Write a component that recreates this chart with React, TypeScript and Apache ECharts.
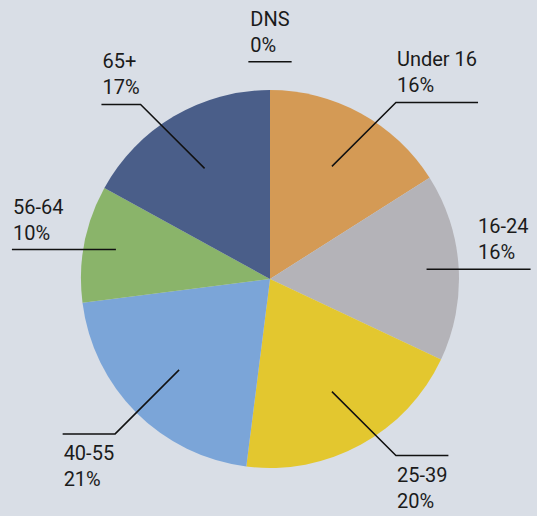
import React, { useEffect, useRef } from "react";
import * as echarts from "echarts";

const categories = ["Under 16", "16-24", "25-39", "40-55", "56-64", "65+", "DNS"];
const shares = [16, 16, 20, 21, 10, 17, 0];
const sliceColors = ["#D49A55", "#B4B3B8", "#E3C72F", "#7BA5D8", "#8AB46A", "#4A5E89", "#999999"];

const W = 537;
const H = 516;
const CX = 270;
const CY = 279;
const R = 189;
const FONT_SIZE = 20;
const FONT_FAMILY = "Roboto";
const LINE_H = 26;

let measureCtx: CanvasRenderingContext2D | null = null;
function textWidth(s: string): number {
  if (!measureCtx) {
    const c = document.createElement("canvas");
    measureCtx = c.getContext("2d");
  }
  if (!measureCtx) return s.length * FONT_SIZE * 0.55;
  measureCtx.font = `${FONT_SIZE}px ${FONT_FAMILY}`;
  return measureCtx.measureText(s).width;
}

export default function App() {
  const ref = useRef<HTMLDivElement>(null);
  useEffect(() => {
    if (!ref.current) return;
    const chart = echarts.init(ref.current, undefined, { renderer: "svg" });
    const total = shares.reduce((a, b) => a + b, 0);

    const renderItem = (params: any, api: any) => {
      const i = params.dataIndex;
      const v = shares[i];
      let before = 0;
      for (let k = 0; k < i; k++) before += shares[k];
      const a0 = (before / total) * Math.PI * 2;
      const a1 = ((before + v) / total) * Math.PI * 2;
      const mid = (a0 + a1) / 2;
      const s = Math.sin(mid);
      const c = Math.cos(mid);
      const text = `${categories[i]}\n${v}%`;
      const w = Math.max(...text.split("\n").map(textWidth));
      let points: number[][] = [];
      let lineY = 0;
      let textX = 0;
      const above = c > 0;
      if (v === 0) {
        lineY = CY - 1.15 * R;
        const x0 = CX - (w + 4) / 2;
        points = [
          [x0, lineY],
          [x0 + w + 4, lineY],
        ];
        textX = x0 + 2;
      } else if (Math.abs(c) < 0.3) {
        const r0 = 0.83 * R;
        const xs = CX + r0 * s;
        lineY = CY - r0 * c;
        const right = s > 0;
        const xe = right ? xs + 104 : xs - 104;
        points = [
          [xs, lineY],
          [xe, lineY],
        ];
        textX = right ? xe - 2 - w : xe + 1;
      } else {
        const r1 = 0.68 * R;
        const sx = CX + r1 * s;
        const sy = CY - r1 * c;
        const dx = s >= 0 ? 1 : -1;
        const dy = c > 0 ? -1 : 1;
        const ex = sx + dx * 64;
        const ey = sy + dy * 64;
        const endX = ex + dx * (w + 2);
        lineY = ey;
        points = [
          [sx, sy],
          [ex, ey],
          [endX, ey],
        ];
        textX = Math.min(ex, endX) + 1;
      }
      return {
        type: "group",
        children: [
          {
            type: "polyline",
            shape: { points },
            style: { stroke: "#111111", lineWidth: 1.5, fill: null },
            z2: 10,
          },
          {
            type: "text",
            x: textX,
            y: above ? lineY - 4 : lineY + 6,
            z2: 10,
            style: {
              text,
              fill: "#1b1b1b",
              fontSize: FONT_SIZE,
              fontFamily: FONT_FAMILY,
              lineHeight: LINE_H,
              align: "left",
              verticalAlign: above ? "bottom" : "top",
            },
          },
        ],
      };
    };

    chart.setOption({
      animation: false,
      backgroundColor: "#D9DEE6",
      series: [
        {
          type: "pie",
          z: 1,
          center: [CX, CY],
          radius: R,
          startAngle: 90,
          clockwise: true,
          silent: true,
          label: { show: false },
          labelLine: { show: false },
          emphasis: { disabled: true },
          itemStyle: { borderWidth: 0 },
          data: categories.map((name, i) => ({
            name,
            value: shares[i],
            itemStyle: { color: sliceColors[i] },
          })),
        },
        {
          type: "custom",
          z: 10,
          coordinateSystem: "none",
          silent: true,
          renderItem,
          data: shares.map((v, i) => [i, v]),
        },
      ],
    });
    return () => chart.dispose();
  }, []);
  return (
    <div
      ref={ref}
      style={{ position: "absolute", left: 0, top: 0, width: W, height: H }}
    />
  );
}
